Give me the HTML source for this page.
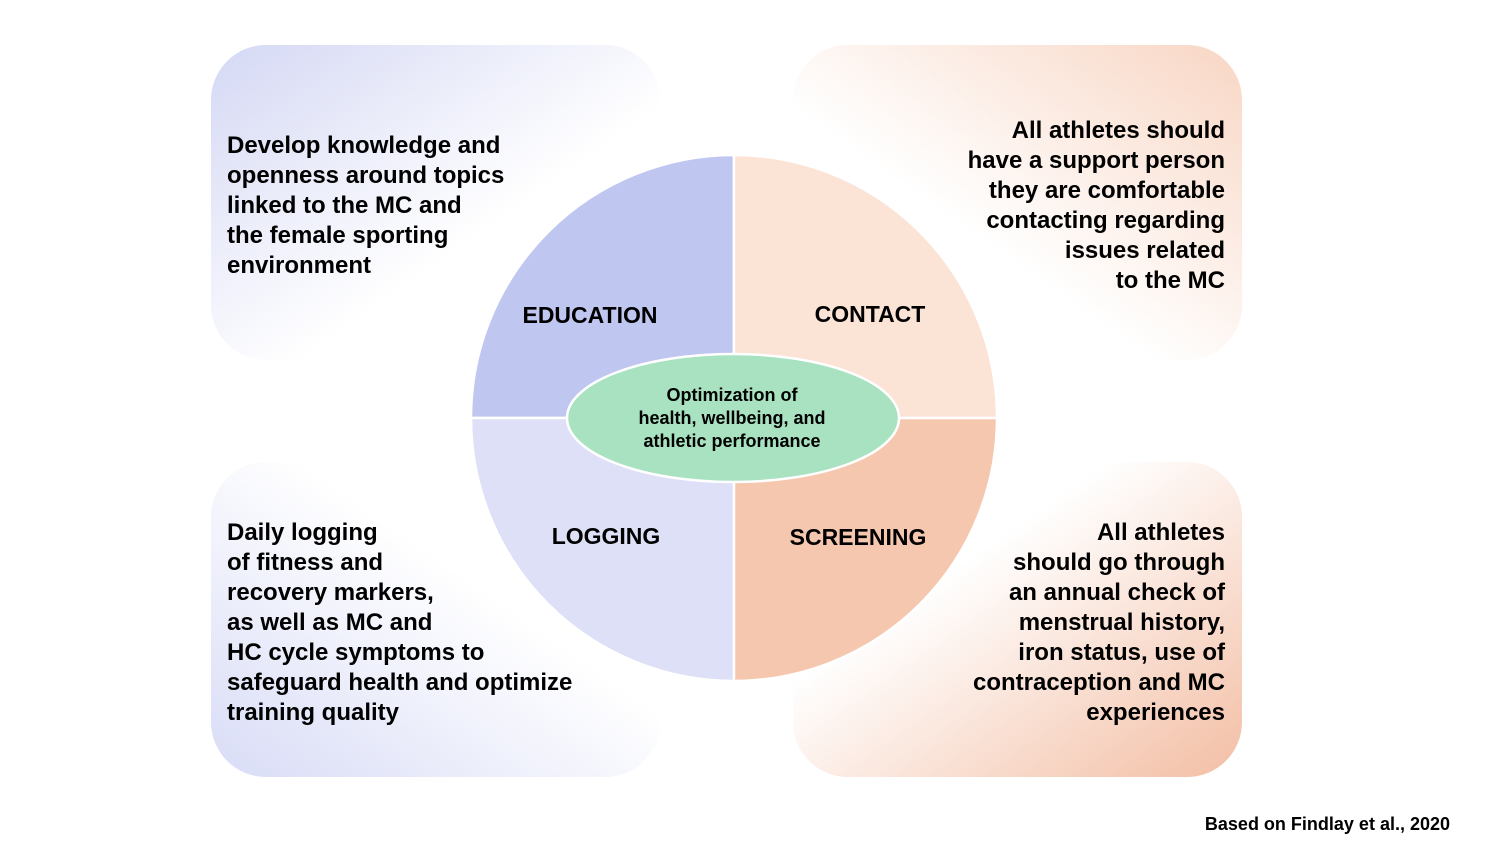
<!DOCTYPE html>
<html><head><meta charset="utf-8"><style>
html,body{margin:0;padding:0;background:#fff;}
svg{display:block;font-family:"Liberation Sans",Arial,sans-serif;font-weight:bold;}
</style></head><body>
<svg width="1500" height="844" viewBox="0 0 1500 844" xmlns="http://www.w3.org/2000/svg">
<defs>
<linearGradient id="gTL" x1="0" y1="0" x2="1" y2="1"><stop offset="0" stop-color="#d4d8f4"/><stop offset="0.6" stop-color="#ffffff"/></linearGradient>
<linearGradient id="gBL" x1="0" y1="1" x2="1" y2="0"><stop offset="0" stop-color="#d8dcf6"/><stop offset="0.6" stop-color="#ffffff"/></linearGradient>
<linearGradient id="gTR" x1="1" y1="0" x2="0" y2="1"><stop offset="0" stop-color="#f8d6c4"/><stop offset="0.6" stop-color="#ffffff"/></linearGradient>
<linearGradient id="gBR" x1="1" y1="1" x2="0" y2="0"><stop offset="0" stop-color="#f3bea4"/><stop offset="0.65" stop-color="#ffffff"/></linearGradient>
</defs>
<rect x="211" y="45" width="449" height="315" rx="55" fill="url(#gTL)"/>
<rect x="793" y="45" width="449" height="315" rx="55" fill="url(#gTR)"/>
<rect x="211" y="462" width="449" height="315" rx="55" fill="url(#gBL)"/>
<rect x="793" y="462" width="449" height="315" rx="55" fill="url(#gBR)"/>

<g stroke="#fff" stroke-width="2.5">
<path d="M734 418 L734 155 A263 263 0 0 0 471 418 Z" fill="#bfc6f0"/>
<path d="M734 418 L997 418 A263 263 0 0 0 734 155 Z" fill="#fbe3d6"/>
<path d="M734 418 L471 418 A263 263 0 0 0 734 681 Z" fill="#dde0f6"/>
<path d="M734 418 L734 681 A263 263 0 0 0 997 418 Z" fill="#f5c7ae"/>
<ellipse cx="733" cy="418" rx="166" ry="64" fill="#a8e2c0"/>
</g>

<g font-size="23" fill="#000">
<text x="590" y="323" text-anchor="middle">EDUCATION</text>
<text x="870" y="322" text-anchor="middle">CONTACT</text>
<text x="606" y="544" text-anchor="middle">LOGGING</text>
<text x="858" y="545" text-anchor="middle">SCREENING</text>
</g>
<g font-size="18" fill="#000" text-anchor="middle">
<text x="732" y="401">Optimization of</text>
<text x="732" y="424">health, wellbeing, and</text>
<text x="732" y="447">athletic performance</text>
</g>

<g font-size="24" fill="#000">
<text x="227" y="153">Develop knowledge and</text>
<text x="227" y="183">openness around topics</text>
<text x="227" y="213">linked to the MC and</text>
<text x="227" y="243">the female sporting</text>
<text x="227" y="273">environment</text>
</g>
<g font-size="24" fill="#000" text-anchor="end">
<text x="1225" y="138">All athletes should</text>
<text x="1225" y="168">have a support person</text>
<text x="1225" y="198">they are comfortable</text>
<text x="1225" y="228">contacting regarding</text>
<text x="1225" y="258">issues related</text>
<text x="1225" y="288">to the MC</text>
</g>
<g font-size="24" fill="#000">
<text x="227" y="540">Daily logging</text>
<text x="227" y="570">of fitness and</text>
<text x="227" y="600">recovery markers,</text>
<text x="227" y="630">as well as MC and</text>
<text x="227" y="660">HC cycle symptoms to</text>
<text x="227" y="690">safeguard health and optimize</text>
<text x="227" y="720">training quality</text>
</g>
<g font-size="24" fill="#000" text-anchor="end">
<text x="1225" y="540">All athletes</text>
<text x="1225" y="570">should go through</text>
<text x="1225" y="600">an annual check of</text>
<text x="1225" y="630">menstrual history,</text>
<text x="1225" y="660">iron status, use of</text>
<text x="1225" y="690">contraception and MC</text>
<text x="1225" y="720">experiences</text>
</g>
<text x="1450" y="830" font-size="18" text-anchor="end" fill="#000">Based on Findlay et al., 2020</text>
</svg>
</body></html>
